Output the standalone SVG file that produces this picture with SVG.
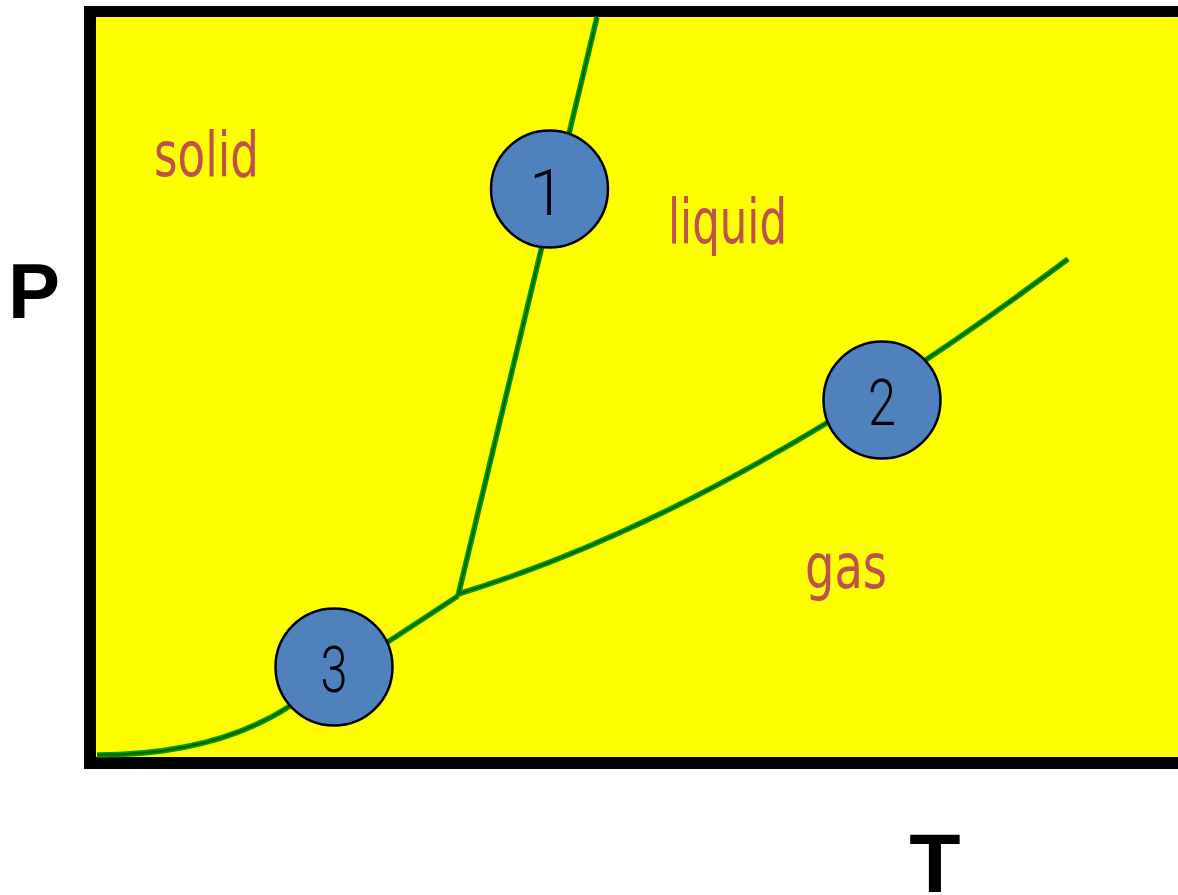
<svg xmlns="http://www.w3.org/2000/svg" width="1178" height="895" viewBox="0 0 1178 895">
<style>
.lbl{font-family:"DejaVu Sans Condensed","DejaVu Sans",sans-serif;font-size:62px;fill:#C0504D}
.num{font-family:Roboto,"Liberation Sans",sans-serif;font-weight:300;font-size:64px;fill:#000;text-anchor:middle}
.ax{font-family:"Liberation Sans",Arial,sans-serif;font-weight:bold;fill:#000}
.curve{fill:none;stroke:#009900;stroke-width:5.5;stroke-linecap:butt}
.core{fill:none;stroke:#006400;stroke-width:2}
.pt{fill:#4F81BD;stroke:#000;stroke-width:2.5}
</style>
<rect width="1178" height="895" fill="#fff"/>
<g id="frame">
<rect x="84" y="6" width="1110" height="763" fill="#000"/>
<rect x="96" y="17" width="1090" height="740" fill="#FFFF00"/>
</g>
<g id="connectors">
<path class="curve" d="M597,17 L458,596"/>
<path class="curve" d="M458,594 Q732,511 1068,259"/>
<path class="curve" d="M97,755 C160,755 230,745 290,706 L458,596"/>
<path class="core" d="M597,17 L458,596"/>
<path class="core" d="M458,594 Q732,511 1068,259"/>
<path class="core" d="M97,755 C160,755 230,745 290,706 L458,596"/>
</g>
<g id="labels">
<text class="lbl" x="154" y="176" textLength="105" lengthAdjust="spacingAndGlyphs">solid</text>
<text class="lbl" x="668" y="243" textLength="119" lengthAdjust="spacingAndGlyphs">liquid</text>
<text class="lbl" x="805" y="588" textLength="82" lengthAdjust="spacingAndGlyphs">gas</text>
</g>
<g id="node1">
<circle class="pt" cx="549.5" cy="189" r="58.5"/>
<text class="num" x="547" y="215">1</text>
</g>
<g id="node2">
<circle class="pt" cx="882" cy="400" r="58.5"/>
<text class="num" x="882" y="425" textLength="28" lengthAdjust="spacingAndGlyphs">2</text>
</g>
<g id="node3">
<circle class="pt" cx="334" cy="667" r="58.5"/>
<text class="num" x="334" y="692" textLength="27" lengthAdjust="spacingAndGlyphs">3</text>
</g>
<g id="axes">
<text class="ax" x="8" y="318" font-size="78">P</text>
<text class="ax" x="935" y="892" font-size="84" text-anchor="middle">T</text>
</g>
</svg>
